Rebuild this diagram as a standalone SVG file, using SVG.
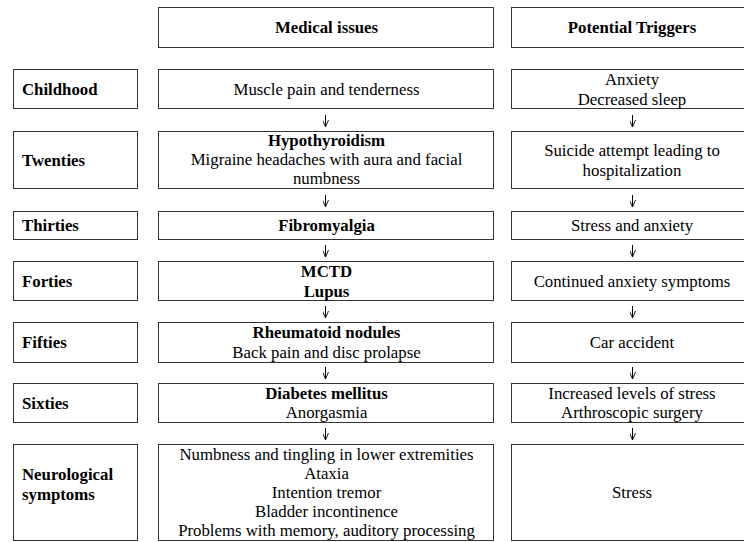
<svg xmlns="http://www.w3.org/2000/svg" width="744" height="542" viewBox="0 0 744 542" font-family="Liberation Serif, Tinos, Times New Roman, DejaVu Serif, serif">
<style>
.box{fill:#fff;stroke:#333;stroke-width:1}
text{font-family:'Liberation Serif','Tinos','Times New Roman','DejaVu Serif',serif;font-size:16.8px;fill:#000}
.b{font-weight:bold}
.c{text-anchor:middle}
.conn{stroke:#000;stroke-width:1;fill:none}
</style>
<defs>
<marker id="ah" markerWidth="8" markerHeight="6" refX="7" refY="3" orient="auto" markerUnits="userSpaceOnUse">
<path d="M0,0 L7,3 L0,6" fill="none" stroke="#000" stroke-width="0.9"/>
</marker>
</defs>
<rect width="744" height="542" fill="#fff"/>

<g id="header-medical"><rect class="box" x="158.5" y="7.5" width="335" height="40"/><text class="b c" x="326.5" y="33">Medical issues</text></g>
<g id="header-triggers"><rect class="box" x="511.5" y="7.5" width="245" height="40"/><text class="b c" x="632" y="33">Potential Triggers</text></g>

<g id="label-childhood"><rect class="box" x="13.5" y="69.5" width="124" height="39"/><text class="b" x="22" y="95">Childhood</text></g>
<g id="med-childhood"><rect class="box" x="158.5" y="69.5" width="335" height="39"/><text class="c" x="326.5" y="95">Muscle pain and tenderness</text></g>
<g id="trig-childhood"><rect class="box" x="511.5" y="69.5" width="245" height="39"/><text class="c" x="632" y="85">Anxiety</text><text class="c" x="632" y="104.5">Decreased sleep</text></g>

<g id="label-twenties"><rect class="box" x="13.5" y="131.5" width="124" height="57"/><text class="b" x="22" y="166">Twenties</text></g>
<g id="med-twenties"><rect class="box" x="158.5" y="131.5" width="335" height="57"/><text class="b c" x="326.5" y="146">Hypothyroidism</text><text class="c" x="326.5" y="165">Migraine headaches with aura and facial</text><text class="c" x="326.5" y="184">numbness</text></g>
<g id="trig-twenties"><rect class="box" x="511.5" y="131.5" width="245" height="57"/><text class="c" x="632" y="156">Suicide attempt leading to</text><text class="c" x="632" y="175.5">hospitalization</text></g>

<g id="label-thirties"><rect class="box" x="13.5" y="211.5" width="124" height="28"/><text class="b" x="22" y="231">Thirties</text></g>
<g id="med-thirties"><rect class="box" x="158.5" y="211.5" width="335" height="28"/><text class="b c" x="326.5" y="231">Fibromyalgia</text></g>
<g id="trig-thirties"><rect class="box" x="511.5" y="211.5" width="245" height="28"/><text class="c" x="632" y="231">Stress and anxiety</text></g>

<g id="label-forties"><rect class="box" x="13.5" y="261.5" width="124" height="39"/><text class="b" x="22" y="287">Forties</text></g>
<g id="med-forties"><rect class="box" x="158.5" y="261.5" width="335" height="39"/><text class="b c" x="326.5" y="277">MCTD</text><text class="b c" x="326.5" y="296.5">Lupus</text></g>
<g id="trig-forties"><rect class="box" x="511.5" y="261.5" width="245" height="39"/><text class="c" x="632" y="287">Continued anxiety symptoms</text></g>

<g id="label-fifties"><rect class="box" x="13.5" y="322.5" width="124" height="40"/><text class="b" x="22" y="348">Fifties</text></g>
<g id="med-fifties"><rect class="box" x="158.5" y="322.5" width="335" height="40"/><text class="b c" x="326.5" y="338">Rheumatoid nodules</text><text class="c" x="326.5" y="357.5">Back pain and disc prolapse</text></g>
<g id="trig-fifties"><rect class="box" x="511.5" y="322.5" width="245" height="40"/><text class="c" x="632" y="348">Car accident</text></g>

<g id="label-sixties"><rect class="box" x="13.5" y="383.5" width="124" height="39"/><text class="b" x="22" y="409">Sixties</text></g>
<g id="med-sixties"><rect class="box" x="158.5" y="383.5" width="335" height="39"/><text class="b c" x="326.5" y="399">Diabetes mellitus</text><text class="c" x="326.5" y="418">Anorgasmia</text></g>
<g id="trig-sixties"><rect class="box" x="511.5" y="383.5" width="245" height="39"/><text class="c" x="632" y="399">Increased levels of stress</text><text class="c" x="632" y="418">Arthroscopic surgery</text></g>

<g id="label-neuro"><rect class="box" x="13.5" y="444.5" width="124" height="96"/><text class="b" x="22" y="480">Neurological</text><text class="b" x="22" y="499.5">symptoms</text></g>
<g id="med-neuro"><rect class="box" x="158.5" y="444.5" width="335" height="96"/>
<text class="c" x="326.5" y="460">Numbness and tingling in lower extremities</text>
<text class="c" x="326.5" y="479">Ataxia</text>
<text class="c" x="326.5" y="498">Intention tremor</text>
<text class="c" x="326.5" y="517">Bladder incontinence</text>
<text class="c" x="326.5" y="536">Problems with memory, auditory processing</text></g>
<g id="trig-neuro"><rect class="box" x="511.5" y="444.5" width="245" height="96"/><text class="c" x="632" y="498">Stress</text></g>

<g id="connectors">
<path class="conn" marker-end="url(#ah)" d="M325.5,115 V127"/>
<path class="conn" marker-end="url(#ah)" d="M325.5,195 V207"/>
<path class="conn" marker-end="url(#ah)" d="M325.5,245 V257"/>
<path class="conn" marker-end="url(#ah)" d="M325.5,306 V318"/>
<path class="conn" marker-end="url(#ah)" d="M325.5,367 V379"/>
<path class="conn" marker-end="url(#ah)" d="M325.5,428 V440"/>
<path class="conn" marker-end="url(#ah)" d="M632.5,115 V127"/>
<path class="conn" marker-end="url(#ah)" d="M632.5,195 V207"/>
<path class="conn" marker-end="url(#ah)" d="M632.5,245 V257"/>
<path class="conn" marker-end="url(#ah)" d="M632.5,306 V318"/>
<path class="conn" marker-end="url(#ah)" d="M632.5,367 V379"/>
<path class="conn" marker-end="url(#ah)" d="M632.5,428 V440"/>
</g>
</svg>
